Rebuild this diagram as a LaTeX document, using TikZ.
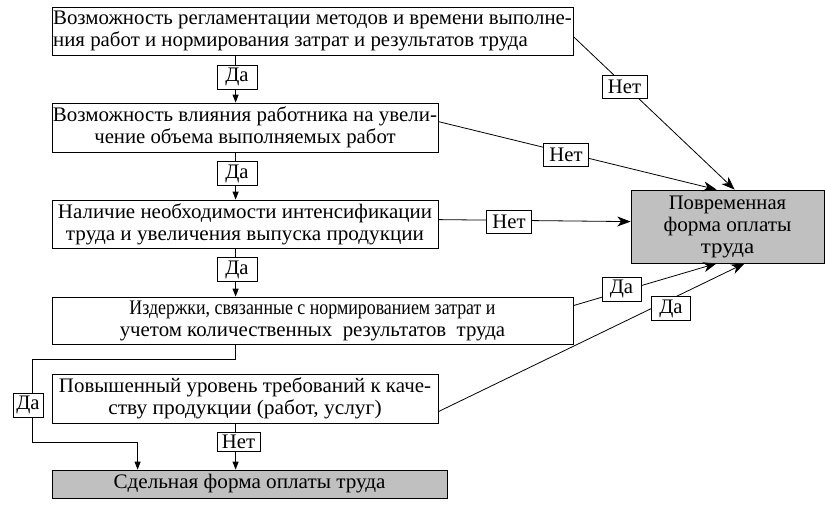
\documentclass[tikz,border=0pt]{standalone}
\usepackage{graphicx}
\usepackage{fontspec}
\setmainfont{Liberation Serif}
\newfontfamily\tnr{Liberation Serif}
\usetikzlibrary{arrows.meta,calc}
\definecolor{boxgrey}{RGB}{192,192,192}
\newcommand\fw[2]{\resizebox{#1}{\height}{#2}}
\begin{document}
\begin{tikzpicture}[x=0.75pt,y=-0.75pt,
  txt/.style={font=\tnr\fontsize{15.5}{16.5}\selectfont},
  box/.style={draw, line width=0.6pt, inner sep=0pt, align=center, txt},
  greybox/.style={box, fill=boxgrey},
  lab/.style={draw, fill=white, line width=0.6pt, inner sep=0pt, txt},
  conn/.style={line width=0.6pt},
  arrS/.style={conn, -{Triangle[length=6pt,width=4.5pt]}},
  arrB/.style={conn, -{Stealth[length=10pt,width=7.5pt,inset=3pt]}}]
\useasboundingbox (0,0) rectangle (826,508);
% boxes
\node[box, minimum width=390.75pt, minimum height=36pt] (b1) at (312.5,31)
  {\fw{389pt}{Возможность регламентации методов и времени выполне-}\\
   \makebox[389pt][l]{\fw{356pt}{ния работ и нормирования затрат и результатов труда}}};
\node[box, minimum width=289.5pt, minimum height=36.75pt] (b2) at (245,127.5)
  {\fw{288pt}{Возможность влияния работника на увели-}\\
   \fw{226pt}{чение объема выполняемых работ}};
\node[box, minimum width=289.5pt, minimum height=36pt] (b3) at (245,224)
  {\fw{280.5pt}{Наличие необходимости интенсификации}\\
   \fw{268.5pt}{труда и увеличения выпуска продукции}};
\node[box, minimum width=390.75pt, minimum height=35.25pt] (b4) at (312.5,320.5)
  {\fw{274.5pt}{Издержки, связанные с нормированием затрат и}\\
   \fw{289pt}{учетом количественных \ результатов \ труда}};
\node[box, minimum width=289.5pt, minimum height=36.75pt] (b5) at (245,398.5)
  {\fw{279pt}{Повышенный уровень требований к каче-}\\
   \fw{205pt}{ству продукции (работ, услуг)}};
\node[greybox, minimum width=296.25pt, minimum height=21pt] (b6) at (249.5,484)
  {\fw{204pt}{Сдельная форма оплаты труда}};
\node[greybox, minimum width=144.75pt, minimum height=54.75pt] (R) at (727.5,226.5)
  {\fw{88pt}{Повременная}\\ \fw{96pt}{форма оплаты}\\ \fw{40pt}{труда}};
% corner coordinates of the left path
\coordinate (c1) at (32,359);
\coordinate (c2) at (32,442);
% vertical connectors
\draw[arrS] ($(b1.south west)+(184,0)$) -- ($(b2.north west)+(184,0)$);
\draw[arrS] ($(b2.south west)+(184,0)$) -- ($(b3.north west)+(184,0)$);
\draw[arrS] ($(b3.south west)+(184,0)$) -- ($(b4.north west)+(184,0)$);
\draw[arrS] ($(b4.south west)+(184,0)$) |- (c1) -- (c2) -| ($(b6.north west)+(86,0)$);
\draw[arrS] ($(b5.south west)+(184,0)$) -- ($(b6.north west)+(184,0)$);
% connectors to the right box
\draw[arrB] ($(b1.north east)+(0,30)$) -- ($(R.north west)+(104,0)$);
\draw[arrB] ($(b2.north east)+(0,19)$) -- ($(R.north west)+(86,0)$);
\draw[arrB] ($(b3.north east)+(0,20)$) -- ($(R.north west)+(0,32)$);
\draw[arrB] ($(b4.north east)+(0,9)$) -- ($(R.south west)+(86,0)$);
\draw[arrB] ($(b5.north east)+(0,38)$) -- ($(R.south west)+(114,0)$);
% labels
\node[lab, minimum width=30pt, minimum height=18pt] (l1) at (237,77) {Да};
\node[lab, minimum width=30pt, minimum height=18pt] (l2) at (237,173.5) {Да};
\node[lab, minimum width=30pt, minimum height=18pt] (l3) at (237,269.5) {Да};
\node[lab, minimum width=22.5pt, minimum height=18pt] (l4) at (28,405) {Да};
\node[lab, minimum width=32.25pt, minimum height=14.25pt, text depth=-1pt] (l5) at (238.5,441.5) {Нет};
\node[lab, minimum width=33.75pt, minimum height=17.25pt] (n1) at (624.5,86.5) {Нет};
\node[lab, minimum width=33.75pt, minimum height=17.25pt] (n2) at (566,154.5) {Нет};
\node[lab, minimum width=33.75pt, minimum height=17.25pt] (n3) at (509,221.5) {Нет};
\node[lab, minimum width=29.25pt, minimum height=18pt] (d1) at (621.5,289) {Да};
\node[lab, minimum width=29.25pt, minimum height=18pt] (d2) at (671,308.5) {Да};
\end{tikzpicture}
\end{document}
